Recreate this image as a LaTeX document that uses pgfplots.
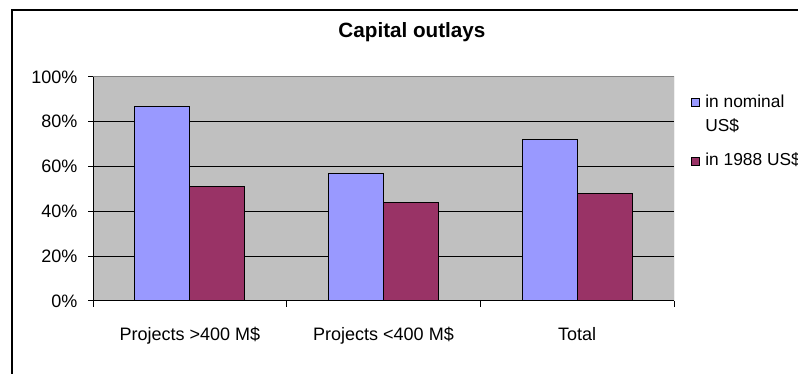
\documentclass[border=0pt]{standalone}
\usepackage{fontspec}
\setmainfont{Liberation Sans}
\usepackage{pgfplots}
\pgfplotsset{compat=1.18}
\definecolor{nominal}{HTML}{9999FF}
\definecolor{real}{HTML}{993366}
\definecolor{plotbg}{HTML}{C0C0C0}
\definecolor{edge}{HTML}{808080}
\newcommand{\chartfont}{\fontsize{13.5}{17.25}\selectfont}

\begin{document}
\begin{tikzpicture}
\useasboundingbox (0,0) rectangle (598.5pt,280.5pt);
\clip (0,0) rectangle (598.5pt,280.5pt);
% chart frame (right and bottom edges fall outside the picture)
\draw[line width=1.5pt] (8.625pt,-10pt) -- (8.625pt,273pt) -- (620pt,273pt);
\begin{axis}[
    at={(69.75pt,54.75pt)}, anchor=south west,
    scale only axis, width=435.75pt, height=168pt,
    xmin=-0.5, xmax=2.5, ymin=0, ymax=100,
    axis background/.style={fill=plotbg},
    axis x line*=bottom, axis y line*=left,
    axis line style={black, line width=0.75pt},
    ymajorgrids, major grid style={black, line width=0.75pt},
    tick align=outside,
    major tick length=3.75pt, minor tick length=4.5pt,
    tick style={black, line width=0.75pt},
    ytick={0,20,40,60,80,100},
    yticklabels={0\%,20\%,40\%,60\%,80\%,100\%},
    yticklabel style={font=\chartfont, xshift=-4.5pt},
    xtick={0,1,2},
    xticklabels={Projects >400 M\$, Projects <400 M\$, Total},
    xticklabel style={font=\chartfont, yshift=-12.5pt},
    major x tick style={draw=none},
    minor xtick={-0.5,0.5,1.5,2.5},
    title={Capital outlays},
    title style={font=\bfseries\fontsize{15.5}{18}\selectfont, at={(axis description cs:0.549,1.165)}, anchor=center},
    legend style={draw=none, fill=none, at={(axis description cs:1.022,0.96)}, anchor=north west,
        font=\fontsize{13}{17.25}\selectfont, cells={anchor=base west}, row sep=28.5pt},
    legend image code/.code={\draw[#1, line width=0.75pt] (0pt,0.5pt) rectangle (6pt,6.5pt);
        \path (8pt,3pt);},
]
\addplot[ybar, fill=nominal, draw=black, line width=0.75pt, bar width=0.284, bar shift=-0.142]
    coordinates {(0,87) (1,57) (2,72)};
\addplot[ybar, fill=real, draw=black, line width=0.75pt, bar width=0.284, bar shift=0.142]
    coordinates {(0,51) (1,44) (2,48)};
\legend{{\begin{tabular}[t]{@{}l@{}}in nominal\\[1pt]US\$\end{tabular}}, {in 1988 US\$}}
\draw[edge, line width=0.75pt] (rel axis cs:0,1) -- (rel axis cs:1,1) -- (rel axis cs:1,0);
\end{axis}
\end{tikzpicture}
\end{document}
